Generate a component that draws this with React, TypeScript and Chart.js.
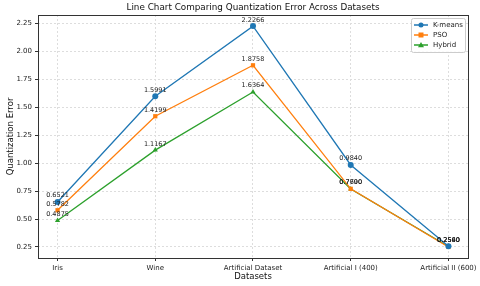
import React, { useEffect, useRef } from "react";
import { Chart, registerables } from "chart.js";

Chart.register(...registerables);

const categories = ["Iris", "Wine", "Artificial Dataset", "Artificial I (400)", "Artificial II (600)"];
const kmeans = [0.6521, 1.5991, 2.2266, 0.984, 0.256];
const pso = [0.5782, 1.4199, 1.8758, 0.77, 0.25];
const hybrid = [0.4875, 1.1167, 1.6364, 0.769, 0.254];
const yTicks = [0.25, 0.5, 0.75, 1.0, 1.25, 1.5, 1.75, 2.0, 2.25];
const seriesNames = ["K-means", "PSO", "Hybrid"];
const colors = ["#1f77b4", "#ff7f0e", "#2ca02c"];
const markers = ["circle", "rect", "triangle"];

const FONT = "'DejaVu Sans', sans-serif";

const overlay = {
  id: "overlay",
  afterDatasetsDraw(chart: any) {
    const ctx = chart.ctx;
    const area = chart.chartArea;
    ctx.save();
    // spines
    ctx.strokeStyle = "#333";
    ctx.lineWidth = 1;
    ctx.strokeRect(Math.round(area.left) + 0.5, Math.round(area.top) + 0.5, Math.round(area.right - area.left), Math.round(area.bottom - area.top));
    // data labels
    ctx.fillStyle = "#222";
    ctx.font = `6.5px ${FONT}`;
    ctx.textAlign = "center";
    ctx.textBaseline = "bottom";
    chart.data.datasets.forEach((ds: any, i: number) => {
      const meta = chart.getDatasetMeta(i);
      meta.data.forEach((pt: any, j: number) => {
        ctx.fillText(ds.data[j].y.toFixed(4), pt.x, pt.y - 3);
      });
    });
    // title
    ctx.fillStyle = "#111";
    ctx.font = `8.8px ${FONT}`;
    ctx.textBaseline = "middle";
    ctx.fillText("Line Chart Comparing Quantization Error Across Datasets", (area.left + area.right) / 2, 8);
    // axis titles
    ctx.font = `8.5px ${FONT}`;
    ctx.fillText("Datasets", (area.left + area.right) / 2, 277);
    ctx.translate(11, (area.top + area.bottom) / 2);
    ctx.rotate(-Math.PI / 2);
    ctx.fillText("Quantization Error", 0, 0);
    ctx.setTransform(1, 0, 0, 1, 0, 0);
    // legend
    const lx = area.right - 57, ly = area.top + 3, lw = 54, lh = 34;
    ctx.fillStyle = "rgba(255,255,255,0.85)";
    ctx.strokeStyle = "#ccc";
    ctx.beginPath();
    ctx.roundRect ? ctx.roundRect(lx + 0.5, ly + 0.5, lw, lh, 2) : ctx.rect(lx + 0.5, ly + 0.5, lw, lh);
    ctx.fill();
    ctx.stroke();
    ctx.font = `7px ${FONT}`;
    ctx.textAlign = "left";
    for (let i = 0; i < 3; i++) {
      const y = ly + 7 + i * 10;
      ctx.strokeStyle = colors[i];
      ctx.lineWidth = 1.5;
      ctx.beginPath();
      ctx.moveTo(lx + 3, y);
      ctx.lineTo(lx + 17, y);
      ctx.stroke();
      ctx.fillStyle = colors[i];
      ctx.beginPath();
      if (i === 0) ctx.arc(lx + 10, y, 2.5, 0, Math.PI * 2);
      else if (i === 1) ctx.rect(lx + 7.5, y - 2.5, 5, 5);
      else { ctx.moveTo(lx + 10, y - 3); ctx.lineTo(lx + 13, y + 2.2); ctx.lineTo(lx + 7, y + 2.2); ctx.closePath(); }
      ctx.fill();
      ctx.fillStyle = "#222";
      ctx.fillText(seriesNames[i], lx + 22, y + 0.5);
    }
    ctx.restore();
  },
};

export default function App() {
  const ref = useRef<HTMLCanvasElement>(null);
  useEffect(() => {
    document.body.style.margin = "0";
    const series = [kmeans, pso, hybrid];
    const chart = new Chart(ref.current!, {
      type: "line",
      data: {
        datasets: series.map((s, i) => ({
          label: seriesNames[i],
          data: s.map((v, j) => ({ x: j, y: v })),
          borderColor: colors[i],
          backgroundColor: colors[i],
          borderWidth: 1.3,
          pointStyle: markers[i] as any,
          pointRadius: 3,
          pointBorderWidth: 0,
          tension: 0,
        })),
      },
      options: {
        animation: false,
        responsive: false,
        devicePixelRatio: 1,
        layout: { padding: { top: 15, right: 10, left: 0, bottom: 0 } },
        plugins: { legend: { display: false }, title: { display: false }, tooltip: { enabled: false } },
        scales: {
          x: {
            type: "linear",
            min: -0.2,
            max: 4.2,
            afterBuildTicks(scale: any) {
              scale.ticks = categories.map((_, i) => ({ value: i }));
            },
            afterFit(scale: any) { scale.height = 28; },
            ticks: {
              callback: (v: any) => categories[v] ?? "",
              font: { family: FONT, size: 7 },
              color: "#222",
              maxRotation: 0,
              autoSkip: false,
              padding: 3,
            },
            grid: { color: "#ddd", tickLength: 3, tickColor: "#333" } as any,
            border: { display: false, dash: [2, 2] } as any,
          },
          y: {
            type: "linear",
            min: 0.151,
            max: 2.326,
            afterBuildTicks(scale: any) {
              scale.ticks = yTicks.map((v) => ({ value: v }));
            },
            afterFit(scale: any) { scale.width = 38; },
            ticks: {
              callback: (v: any) => Number(v).toFixed(2),
              font: { family: FONT, size: 7 },
              color: "#222",
              padding: 3,
            },
            grid: { color: "#ddd", tickLength: 3, tickColor: "#333" } as any,
            border: { display: false, dash: [2, 2] } as any,
          },
        },
      },
      plugins: [overlay],
    });
    return () => chart.destroy();
  }, []);
  return (
    <div style={{ position: "fixed", left: 0, top: 0, width: 480, height: 286 }}>
      <canvas ref={ref} width={480} height={286} style={{ width: 480, height: 286 }} />
    </div>
  );
}
